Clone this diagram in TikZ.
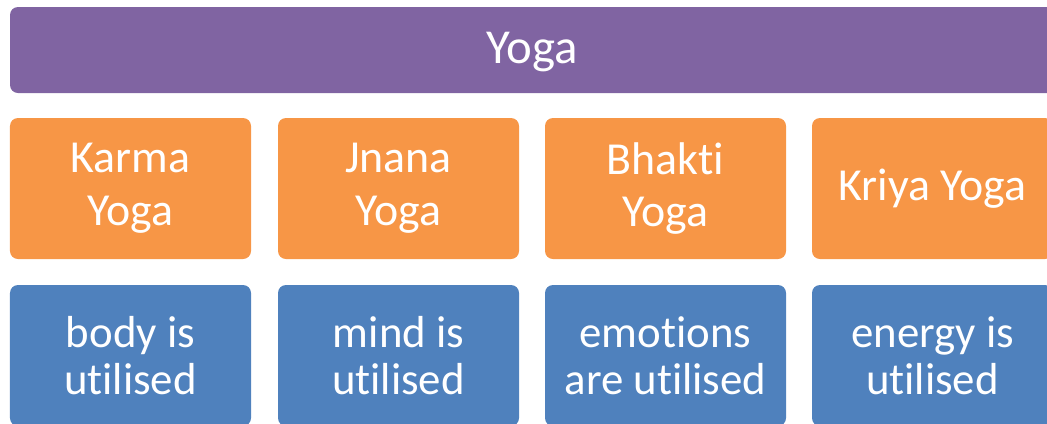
\documentclass[tikz,border=0pt]{standalone}
\usepackage{fontspec}
\setmainfont{Carlito}[Ligatures=NoCommon]
\definecolor{yogapurple}{HTML}{8064A2}
\definecolor{yogaorange}{HTML}{F79646}
\definecolor{yogablue}{HTML}{4F81BD}
\tikzset{
    card/.style={rounded corners=8bp, inner sep=0pt, text=white, align=center,
        minimum width=241bp, minimum height=141bp},
    branch/.style={card, fill=yogaorange, font=\fontsize{46}{53}\selectfont},
    effect/.style={card, fill=yogablue, font=\fontsize{45}{47}\selectfont}
}
\begin{document}
\begin{tikzpicture}[x=1bp,y=-1bp]
            \useasboundingbox (0,0) rectangle (1047,423);
            \clip (0,0) rectangle (1047,423);
            
            \draw[fill=yogapurple, draw=none, rounded corners=8bp] (10,7) rectangle (1070,93);
            \node[text=white, font=\fontsize{49}{52}\selectfont] (yoga) at (532,52) {Yoga};
            
            \node[branch] (karma) at (130.5,188.5) {Karma\\Yoga};
            \node[branch] (jnana) at (398.5,188.5) {Jnana\\Yoga};
            \node[branch] (bhakti) at (665.5,188.5) {Bhakti\\Yoga};
            \node[branch] (kriya) at (932.5,188.5) {Kriya Yoga};
            
            \node[effect] (body) at (130.5,355.5) {body is\\utilised};
            \node[effect] (mind) at (398.5,355.5) {mind is\\utilised};
            \node[effect] (emotions) at (665.5,355.5) {emotions\\are utilised};
            \node[effect] (energy) at (932.5,355.5) {energy is\\utilised};
        \end{tikzpicture}
\end{document}
